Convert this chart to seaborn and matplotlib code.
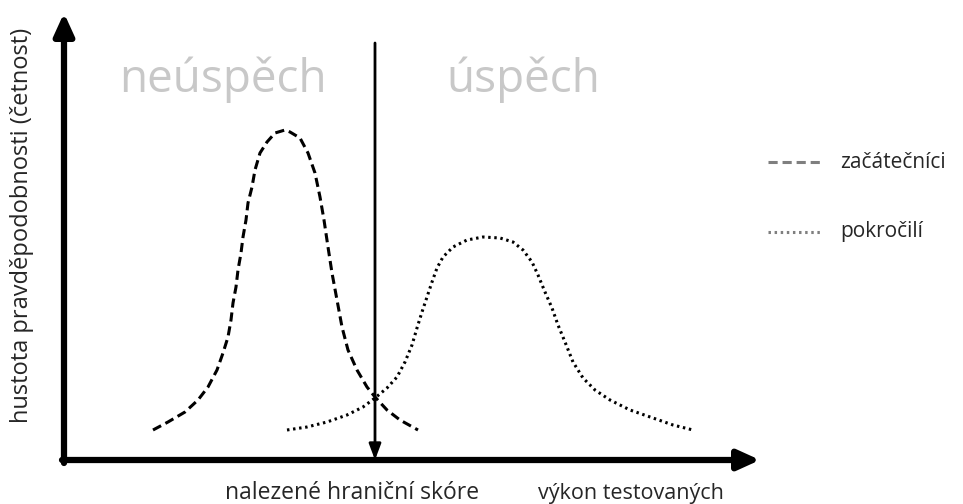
import matplotlib.pyplot as plt
import seaborn as sns
import pandas as pd

sns.set_theme(style='white')
plt.rcParams['font.family'] = ['Open Sans', 'DejaVu Sans']

# krivky (x = vykon, y = hustota, v pixelech, y roste nahoru)
zac_x = [153, 168, 185, 198, 208, 217, 223, 228, 231, 233, 236, 238, 241, 243,
         246, 248, 252, 255, 260, 267, 275, 285, 290, 300, 308, 315, 320, 324,
         328, 332, 337, 342, 348, 357, 367, 375, 387, 400, 418]
zac_y = [74, 82, 92, 104, 117, 134, 151, 167, 184, 201, 217, 234, 251, 267,
         284, 301, 317, 334, 351, 362, 371, 374, 372, 366, 351, 331, 307, 284,
         257, 231, 204, 177, 154, 134, 117, 107, 94, 84, 74]
pok_x = [287, 307, 327, 347, 363, 375, 387, 397, 405, 412, 417, 422, 427, 432,
         437, 443, 453, 467, 483, 500, 513, 523, 532, 538, 545, 552, 558, 565,
         573, 583, 595, 610, 630, 653, 673, 693]
pok_y = [74, 77, 82, 89, 97, 106, 116, 127, 142, 159, 176, 192, 207, 222,
         236, 247, 257, 264, 267, 266, 262, 254, 242, 229, 212, 196, 179, 162,
         142, 126, 114, 104, 94, 86, 79, 74]

hranice = 375
labels_oblast = ['neúspěch', 'úspěch']
legend_labels = ['začátečníci', 'pokročilí']
ylabel = 'hustota pravděpodobnosti (četnost)'
xlabel_hranice = 'nalezené hraniční skóre'
xlabel_vykon = 'výkon testovaných'

df_zac = pd.DataFrame({'x': zac_x, 'y': zac_y})
df_pok = pd.DataFrame({'x': pok_x, 'y': pok_y})

fig = plt.figure(figsize=(9.63, 5.04), dpi=100)
ax = fig.add_axes([0, 0, 1, 1])
ax.set_xlim(0, 963)
ax.set_ylim(0, 504)
ax.axis('off')

dashed = (0, (3.0, 1.6))
dotted = (0, (0.8, 1.2))

sns.lineplot(data=df_zac, x='x', y='y', ax=ax, color='black', lw=2.2,
             linestyle=dashed, sort=False)
sns.lineplot(data=df_pok, x='x', y='y', ax=ax, color='black', lw=2.2,
             linestyle=dotted, sort=False)

# osy se sipkami
ax.annotate('', xy=(64, 491), xytext=(64, 41),
            arrowprops=dict(arrowstyle='-|>,head_length=1.1,head_width=0.5',
                            lw=4.5, color='black', shrinkA=0, shrinkB=0))
ax.annotate('', xy=(760, 44), xytext=(62, 44),
            arrowprops=dict(arrowstyle='-|>,head_length=1.1,head_width=0.5',
                            lw=4.5, color='black', shrinkA=0, shrinkB=0))
# hranice
ax.annotate('', xy=(hranice, 44), xytext=(hranice, 461),
            arrowprops=dict(arrowstyle='-|>,head_length=0.8,head_width=0.3',
                            lw=2, color='black', shrinkA=0, shrinkB=0))

ax.text(223, 424, labels_oblast[0], fontsize=33, color='#c8c8c8',
        ha='center', va='center')
ax.text(523, 424, labels_oblast[1], fontsize=33, color='#c8c8c8',
        ha='center', va='center')

# legenda
ax.plot([768, 820], [342, 342], color='#7f7f7f', lw=2.2, linestyle=dashed)
ax.plot([768, 820], [272, 272], color='#7f7f7f', lw=2.2, linestyle=dotted)
ax.text(840, 342, legend_labels[0], fontsize=15, va='center', ha='left')
ax.text(840, 272, legend_labels[1], fontsize=15, va='center', ha='left')

ax.text(22, 279, ylabel, fontsize=17, rotation=90, va='center', ha='center')
ax.text(352, 11, xlabel_hranice, fontsize=16.5, va='center', ha='center')
ax.text(631, 11, xlabel_vykon, fontsize=15.5, va='center', ha='center')

fig.savefig('out.png', dpi=100)
